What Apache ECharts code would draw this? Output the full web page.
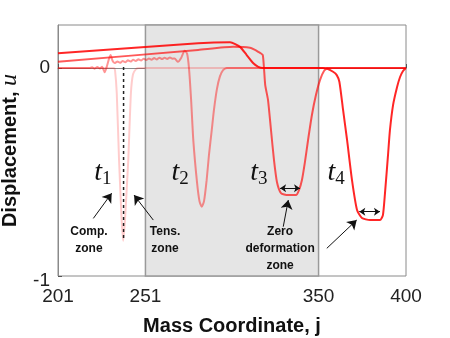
<!DOCTYPE html>
<html>
<head>
<meta charset="utf-8">
<script src="https://cdn.jsdelivr.net/npm/echarts@6/dist/echarts.min.js"></script>
<style>
  html, body { margin: 0; padding: 0; background: #fff; }
  #chart { width: 450px; height: 338px; }
</style>
</head>
<body>
<div id="chart"></div>
<script>
// axis ticks
let xTicks = [201, 251, 350, 400];
let yTicks = [-1, 0];
let shadeRange = [251, 350];

// displacement profiles [j, u] at the four times
let t1Points = [[201, 0], [233, 0], [233.6, -0.01], [234.6, -0.12], [235.9, -0.44], [237.4, -0.73],
  [238.3, -0.83], [239.3, -0.73], [240.5, -0.55], [241.2, -0.44], [242.7, -0.12], [243.9, -0.03],
  [245.6, -0.005], [247.3, 0], [400, 0]];

let t2Points = [[201, 0], [219, 0], [220.5, 0.004], [222, -0.003], [223.5, 0.005], [225, -0.002],
  [226.2, 0.006], [227.7, -0.02], [229, 0.01], [230.2, 0.045], [231.1, 0.063], [232.2, 0.035],
  [233.4, 0.024], [235, 0.031], [236.5, 0.025], [238, 0.034], [239.5, 0.028], [241, 0.037],
  [242.5, 0.031], [244, 0.04], [245.5, 0.034], [247, 0.042], [248.5, 0.036], [250, 0.045],
  [251.5, 0.039], [253, 0.046], [254.5, 0.04], [256, 0.048], [257.5, 0.041], [259, 0.05],
  [260.5, 0.043], [262, 0.05], [263.5, 0.044], [265, 0.051], [266.5, 0.045], [267.7, 0.046],
  [269.6, 0.03], [271.5, 0.05], [273.4, 0.083], [274.8, 0.07], [275.9, 0.0], [277.1, -0.15],
  [278.4, -0.35], [280.5, -0.55], [281.9, -0.64], [283.2, -0.667], [284.5, -0.64], [286, -0.539],
  [287.3, -0.42], [288.9, -0.30], [290.2, -0.2], [291.9, -0.1], [293.6, -0.04], [295.4, -0.01],
  [297.6, 0], [400, 0]];

let t3Points = [[201, 0.030], [281.1, 0.087], [301.2, 0.102], [310.8, 0.098], [313.7, 0.087],
  [315.5, 0.078], [316.9, 0.071], [318.1, 0.063], [318.8, -0.001], [319.5, -0.082], [321.1, -0.154],
  [322.8, -0.298], [324.5, -0.442], [326.2, -0.548], [328.5, -0.601], [332.5, -0.611],
  [337.1, -0.611], [338.8, -0.587], [340.5, -0.538], [342.2, -0.452], [344, -0.346],
  [346.2, -0.226], [348.5, -0.130], [350.8, -0.058], [353.1, -0.014], [355.4, 0], [400, 0]];

let t4Points = [[201, 0.071], [281.1, 0.119], [299.4, 0.124], [305.1, 0.102], [308.9, 0.0625],
  [312.7, 0.023], [315.5, 0.006], [318.2, 0], [352.5, 0], [354.7, -0.002], [358.3, -0.018],
  [360.4, -0.034], [361.9, -0.066], [364, -0.2], [366.3, -0.346], [369.1, -0.538], [372, -0.683],
  [374.8, -0.721], [379.4, -0.731], [385.1, -0.731], [386.8, -0.707], [388, -0.6], [389.7, -0.42],
  [390.8, -0.30], [392.6, -0.178], [394.9, -0.091], [396.6, -0.043], [398.3, -0.014], [400, 0]];

// dashed marker through the t1 trough
let dashPoints = [[238.5, 0.005], [238.5, -0.83]];

// annotation arrows [from, to] in data units
let singleArrows = [
  [[221.2, -0.723], [231.7, -0.602]],
  [[255.5, -0.731], [244.5, -0.611]],
  [[329.8, -0.763], [332.7, -0.635]],
  [[354.7, -0.867], [371.8, -0.731]]
];
let doubleArrows = [
  [[328, -0.578], [339.4, -0.578]],
  [[373.3, -0.691], [385.1, -0.691]]
];

// labels [text, j, u]
let timeLabels = [['1', 226.7, -0.505], ['2', 270.8, -0.505], ['3', 315.9, -0.505], ['4', 360, -0.505]];
let noteLabels = [['Comp.\nzone', 218.7, -0.83], ['Tens.\nzone', 262.2, -0.83],
  ['Zero\ndeformation\nzone', 328, -0.87]];

let colors = ['rgba(255,0,0,0.2)', 'rgba(255,0,0,0.42)', 'rgba(255,0,0,0.65)', 'rgba(255,0,0,0.85)'];

var myChart = echarts.init(document.getElementById('chart'));

function curve(data, color) {
  return {
    type: 'line',
    data: data,
    symbol: 'none',
    smooth: 0.2,
    z: 3,
    lineStyle: { color: color, width: 2 }
  };
}

let option = {
  animation: false,
  grid: {
    left: 58, top: 25, right: 44, bottom: 62,
    outerBoundsMode: 'none',
    containLabel: false,
    show: true,
    borderColor: '#8a8a8a',
    borderWidth: 1,
    backgroundColor: 'transparent'
  },
  xAxis: {
    type: 'value',
    min: 201,
    max: 400,
    name: 'Mass Coordinate, j',
    nameLocation: 'middle',
    nameGap: 40,
    nameTextStyle: { fontFamily: 'Liberation Sans', fontWeight: 'bold', fontSize: 20, color: '#111' },
    axisLine: { show: true, lineStyle: { color: '#8a8a8a' } },
    axisTick: { show: true, inside: true, length: 4, customValues: xTicks, lineStyle: { color: '#555' } },
    axisLabel: { customValues: xTicks, fontFamily: 'Liberation Sans', fontSize: 19, color: '#222', margin: 11 },
    splitLine: { show: false }
  },
  yAxis: {
    type: 'value',
    min: -1,
    max: 0.207,
    name: 'Displacement, {u|u}',
    nameLocation: 'middle',
    nameGap: 36,
    nameTextStyle: {
      fontFamily: 'Liberation Sans', fontWeight: 'bold', fontSize: 20, color: '#111',
      rich: { u: { fontFamily: 'Liberation Serif', fontStyle: 'italic', fontWeight: 'normal', fontSize: 24, color: '#111' } }
    },
    axisLine: { show: true, lineStyle: { color: '#8a8a8a' } },
    axisTick: { show: true, inside: true, length: 4, customValues: yTicks, lineStyle: { color: '#555' } },
    axisLabel: {
      customValues: yTicks, fontFamily: 'Liberation Sans', fontSize: 19, color: '#222', margin: 8,
      formatter: function (v) { return v === -1 ? '{m|-1}' : String(v); },
      rich: { m: { fontFamily: 'Liberation Sans', fontSize: 19, color: '#222', padding: [10, 0, 0, 0] } }
    },
    splitLine: { show: false }
  },
  series: [
    {
      type: 'line',
      data: [],
      z: 1,
      markArea: {
        silent: true,
        itemStyle: { color: '#e5e5e5', borderColor: '#9a9a9a', borderWidth: 1.5 },
        data: [[{ xAxis: shadeRange[0] }, { xAxis: shadeRange[1] }]]
      }
    },
    curve(t1Points, colors[0]),
    curve(t2Points, colors[1]),
    curve(t3Points, colors[2]),
    curve(t4Points, colors[3]),
    {
      type: 'line',
      data: dashPoints,
      symbol: 'none',
      z: 4,
      lineStyle: { color: '#222', width: 1.5, type: [3, 3] }
    },
    {
      type: 'lines',
      coordinateSystem: 'cartesian2d',
      z: 5,
      symbol: ['none', 'arrow'],
      symbolSize: 9,
      lineStyle: { color: '#111', width: 1, opacity: 1 },
      data: singleArrows.map(a => ({ coords: a }))
    },
    {
      type: 'lines',
      coordinateSystem: 'cartesian2d',
      z: 5,
      symbol: ['arrow', 'arrow'],
      symbolSize: 6,
      lineStyle: { color: '#111', width: 1, opacity: 1 },
      data: doubleArrows.map(a => ({ coords: a }))
    }
  ]
};

myChart.setOption(option);

// text annotations placed through the axis scales
let graphics = [];
timeLabels.forEach(function (l) {
  let p = myChart.convertToPixel({ gridIndex: 0 }, [l[1], l[2]]);
  graphics.push({
    type: 'text', x: p[0], y: p[1], z: 10,
    style: {
      text: '{t|t}{s|' + l[0] + '}',
      align: 'center', verticalAlign: 'middle',
      rich: {
        t: { fontFamily: 'Liberation Serif', fontStyle: 'italic', fontSize: 28, fill: '#111' },
        s: { fontFamily: 'Liberation Serif', fontSize: 19, fill: '#111', padding: [12, 0, 0, 0] }
      }
    }
  });
});
noteLabels.forEach(function (l) {
  let p = myChart.convertToPixel({ gridIndex: 0 }, [l[1], l[2]]);
  graphics.push({
    type: 'text', x: p[0], y: p[1], z: 10,
    style: {
      text: l[0], align: 'center', verticalAlign: 'middle',
      fontFamily: 'Liberation Sans', fontWeight: 'bold', fontSize: 12, lineHeight: 17, fill: '#111'
    }
  });
});
myChart.setOption({ graphic: graphics });
</script>
</body>
</html>
